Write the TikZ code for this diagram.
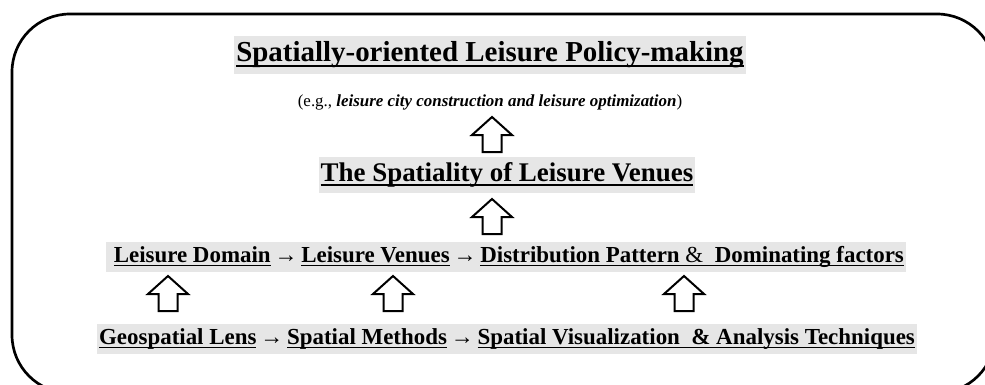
\documentclass[tikz,border=0pt]{standalone}
\usepackage{fontspec}
\setmainfont{Liberation Serif}
\definecolor{hl}{HTML}{E6E6E6}
\newsavebox\ulbox
% underline drawn as a rule under the whole phrase
\newcommand\ulbar[1]{\sbox\ulbox{#1}\rlap{\rule[-0.17em]{\wd\ulbox}{0.075em}}\usebox\ulbox}
\newcommand\ra{\,→\,}
\tikzset{
  frame/.style={line width=2pt, rounded corners=43.5pt},
  hlbox/.style={fill=hl, inner xsep=1.5pt, inner ysep=0pt, anchor=center},
  titlebox/.style={hlbox, font=\fontsize{21.7}{24}\bfseries\selectfont, minimum height=29pt},
  midbox/.style={hlbox, font=\fontsize{20.2}{22}\bfseries\selectfont, minimum height=27pt},
  rowbox/.style={hlbox, font=\fontsize{17.2}{19}\bfseries\selectfont, minimum height=23pt},
  note/.style={font=\fontsize{12.7}{14}\selectfont, inner sep=0pt},
  hollowup/.pic={\draw[line width=1.5pt, line join=miter, fill=white]
      (-9.5,0) -- (-9.5,-17) -- (-20,-17) -- (0,-35) -- (20,-17) -- (9.5,-17) -- (9.5,0) -- cycle;}
}
\begin{document}
\begin{tikzpicture}[x=0.75pt, y=-0.75pt]
  \useasboundingbox (0,0) rectangle (985,385);
  \clip (0,0) rectangle (985,385);
  % outer rounded frame, running past the right and bottom edges
  \draw[frame] (12,14) rectangle (995,393);

  \node[titlebox] (policy) at (490,55) {\ulbar{Spatially-oriented Leisure Policy-making}};
  \node[note] (eg) at (490,102) {(e.g., \textit{\textbf{leisure city construction and leisure optimization}})};
  \pic at (492,152) {hollowup};
  \node[midbox] (venues) at (507,175) {\ulbar{The Spatiality of Leisure Venues}};
  \pic at (492,234) {hollowup};
  \node[rowbox] (domain) at (506,257) {\ \ulbar{Leisure Domain}\ra\ulbar{Leisure Venues}\ra\ulbar{Distribution Pattern {\mdseries\&}\ \ Dominating factors}};
  \pic at (168,311) {hollowup};
  \pic at (393,311) {hollowup};
  \pic at (684,311) {hollowup};
  \node[rowbox] (lens) at (507,339) {\ulbar{Geospatial Lens}\ra\ulbar{Spatial Methods}\ra\ulbar{Spatial Visualization\ \ \& Analysis Techniques}};
\end{tikzpicture}
\end{document}
